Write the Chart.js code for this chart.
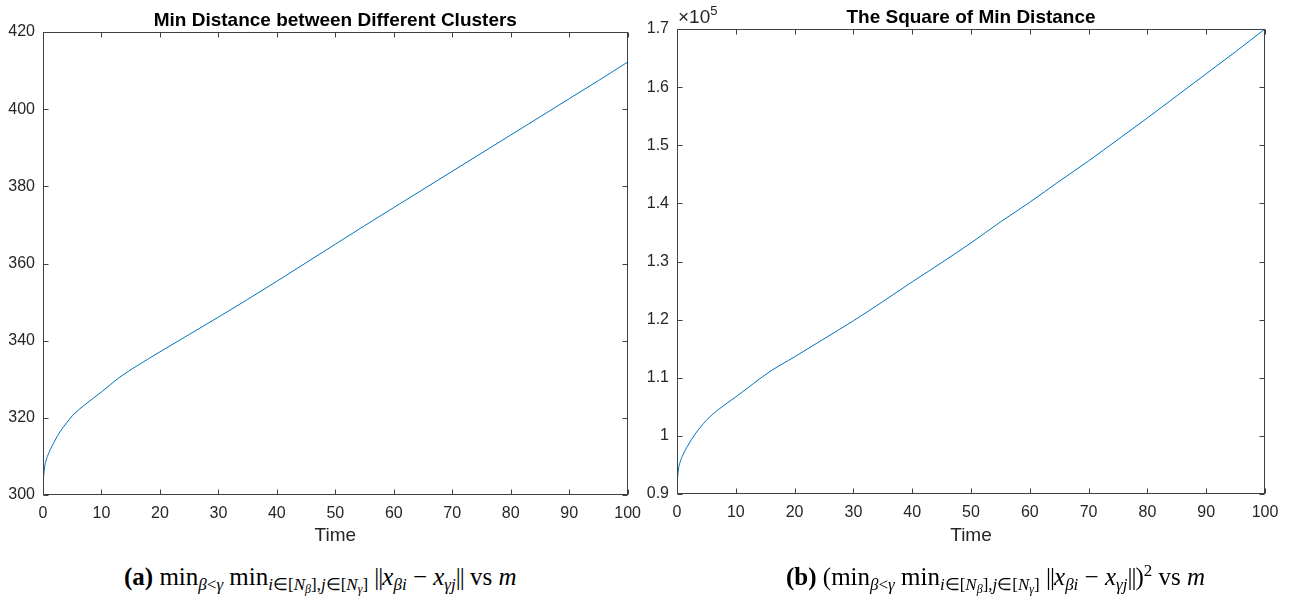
<!DOCTYPE html>
<html>
<head>
<meta charset="utf-8">
<script src="https://cdn.jsdelivr.net/npm/chart.js@4"></script>
<style>
  html, body { margin: 0; padding: 0; background: #fff; }
  #page { position: relative; width: 1292px; height: 599px; overflow: hidden; }
  canvas { position: absolute; top: 0; }
  #leftChart { left: 0; }
  #rightChart { left: 630px; }
  .caption {
    position: absolute; top: 564px; white-space: nowrap;
    font-family: 'Liberation Serif', 'Times New Roman', serif; font-size: 25px; line-height: 1; color: #000;
  }
  .caption sub { font-size: 17px; vertical-align: -5px; line-height: 0; }
  .caption sub sub { font-size: 12px; vertical-align: -3px; }
  .caption sup { font-size: 17px; line-height: 0; }
  .bars { letter-spacing: -1px; }
  #capA { left: 124px; }
  #capB { left: 786px; }
</style>
</head>
<body>
<div id="page">
  <canvas id="leftChart" width="650" height="560"></canvas>
  <canvas id="rightChart" width="662" height="560"></canvas>
  <div class="caption" id="capA"><b>(a)</b> min<sub><i>β</i>&lt;<i>γ</i></sub> min<sub><i>i</i>∈[<i>N</i><sub><i>β</i></sub>],<i>j</i>∈[<i>N</i><sub><i>γ</i></sub>]</sub> <span class="bars">||</span><i>x</i><sub><i>βi</i></sub> − <i>x</i><sub><i>γj</i></sub><span class="bars">||</span> vs <i>m</i></div>
  <div class="caption" id="capB"><b>(b)</b> (min<sub><i>β</i>&lt;<i>γ</i></sub> min<sub><i>i</i>∈[<i>N</i><sub><i>β</i></sub>],<i>j</i>∈[<i>N</i><sub><i>γ</i></sub>]</sub> <span class="bars">||</span><i>x</i><sub><i>βi</i></sub> − <i>x</i><sub><i>γj</i></sub><span class="bars">||</span>)<sup>2</sup> vs <i>m</i></div>
</div>
<script>
// Values (time on x, distance on y).
const time = [0, 0.25, 0.5, 1, 2, 3, 4, 5, 7, 10, 13, 16, 20, 25, 30, 35, 40, 45, 50, 55, 60, 65, 70, 75, 80, 85, 90, 95, 100];
const minDistance = [303.0, 307.0, 308.8, 310.9, 314.0, 316.6, 318.6, 320.5, 323.2, 326.7, 330.4, 333.4, 337.1, 341.6, 346.1, 350.7, 355.4, 360.2, 365.0, 369.8, 374.5, 379.2, 383.9, 388.6, 393.3, 398.0, 402.7, 407.4, 412.2];
const minDistanceSq = [91700, 94300, 95400, 96700, 98600, 100200, 101500, 102700, 104500, 106700, 109000, 111200, 113600, 116700, 119800, 123100, 126500, 129800, 133200, 136800, 140200, 143800, 147300, 151000, 154700, 158500, 162300, 166100, 170000];

const xTicks = { min: 0, max: 100, step: 10 };
const leftTicks = { min: 300, max: 420, step: 20 };
const rightTicks = { min: 90000, max: 170000, step: 10000 };

const AXIS = '#404040';
const TEXT = '#262626';
const LINE = '#0072BD';
const SANS = "'Liberation Sans', Arial, Helvetica, sans-serif";
Chart.defaults.font.family = SANS;

// MATLAB-style frame: boxed axes, ticks pointing inward on all four sides,
// bold title over the plot area, centred x label, optional ×10^n exponent.
const matlabFrame = {
  id: 'matlabFrame',
  afterDraw(chart, args, opts) {
    const { ctx, chartArea: a, scales: { x, y } } = chart;
    const L = Math.round(a.left) + 0.5, R = Math.round(a.right) - 0.5;
    const T = Math.round(a.top) + 0.5, B = Math.round(a.bottom) - 0.5;
    ctx.save();
    ctx.strokeStyle = AXIS;
    ctx.lineWidth = 1;
    ctx.strokeRect(L, T, R - L, B - T);
    ctx.beginPath();
    x.ticks.forEach((t) => {
      const px = Math.round(x.getPixelForValue(t.value)) + 0.5;
      ctx.moveTo(px, B); ctx.lineTo(px, B - 5);
      ctx.moveTo(px, T); ctx.lineTo(px, T + 5);
    });
    y.ticks.forEach((t) => {
      const py = Math.round(y.getPixelForValue(t.value)) + 0.5;
      ctx.moveTo(L, py); ctx.lineTo(L + 5, py);
      ctx.moveTo(R, py); ctx.lineTo(R - 5, py);
    });
    ctx.stroke();

    const cx = (a.left + a.right) / 2;
    ctx.fillStyle = '#000';
    ctx.textAlign = 'center';
    ctx.textBaseline = 'alphabetic';
    ctx.font = `bold 19px ${SANS}`;
    ctx.fillText(opts.title, cx, a.top - 6);

    ctx.fillStyle = TEXT;
    ctx.font = `19px ${SANS}`;
    ctx.textBaseline = 'middle';
    ctx.fillText(opts.xLabel, cx, 536);

    if (opts.exponent) {
      ctx.textAlign = 'left';
      ctx.textBaseline = 'alphabetic';
      ctx.font = `19px ${SANS}`;
      ctx.fillText('×10', a.left + 1, a.top - 6);
      const w = ctx.measureText('×10').width;
      ctx.font = `13px ${SANS}`;
      ctx.fillText(opts.exponent, a.left + 1 + w, a.top - 14);
    }
    ctx.restore();
  },
};

function buildPanel(canvas, values, yTicks, { title, exponent = null, pad, yWidth, xHeight, yFormat }) {
  const points = time.map((t, i) => ({ x: t, y: values[i] }));
  return new Chart(canvas.getContext('2d'), {
    type: 'line',
    data: {
      datasets: [{
        data: points,
        borderColor: LINE,
        borderWidth: 1,
        pointRadius: 0,
        cubicInterpolationMode: 'monotone',
        fill: false,
      }],
    },
    plugins: [matlabFrame],
    options: {
      responsive: false,
      animation: false,
      events: [],
      layout: { padding: pad },
      scales: {
        x: {
          type: 'linear',
          min: xTicks.min,
          max: xTicks.max,
          grid: { display: false, drawTicks: false },
          border: { display: false },
          ticks: { stepSize: xTicks.step, padding: 9, color: TEXT, font: { size: 16 }, maxRotation: 0 },
          afterFit: (s) => { s.height = xHeight; },
        },
        y: {
          min: yTicks.min,
          max: yTicks.max,
          grid: { display: false, drawTicks: false },
          border: { display: false },
          ticks: { stepSize: yTicks.step, padding: 8, color: TEXT, font: { size: 16 }, callback: yFormat },
          afterFit: (s) => { s.width = yWidth; },
        },
      },
      plugins: {
        legend: { display: false },
        tooltip: { enabled: false },
        matlabFrame: { title, xLabel: 'Time', exponent },
      },
    },
  });
}

buildPanel(document.getElementById('leftChart'), minDistance, leftTicks, {
  title: 'Min Distance between Different Clusters',
  pad: { left: 0, right: 22, top: 32, bottom: 0 },
  yWidth: 43,
  xHeight: 65,
  yFormat: (v) => String(v),
});

buildPanel(document.getElementById('rightChart'), minDistanceSq, rightTicks, {
  title: 'The Square of Min Distance',
  exponent: '5',
  pad: { left: 0, right: 27, top: 29, bottom: 0 },
  yWidth: 47,
  xHeight: 66,
  yFormat: (v) => String(Math.round(v / 1e4) / 10),
});
</script>
</body>
</html>
